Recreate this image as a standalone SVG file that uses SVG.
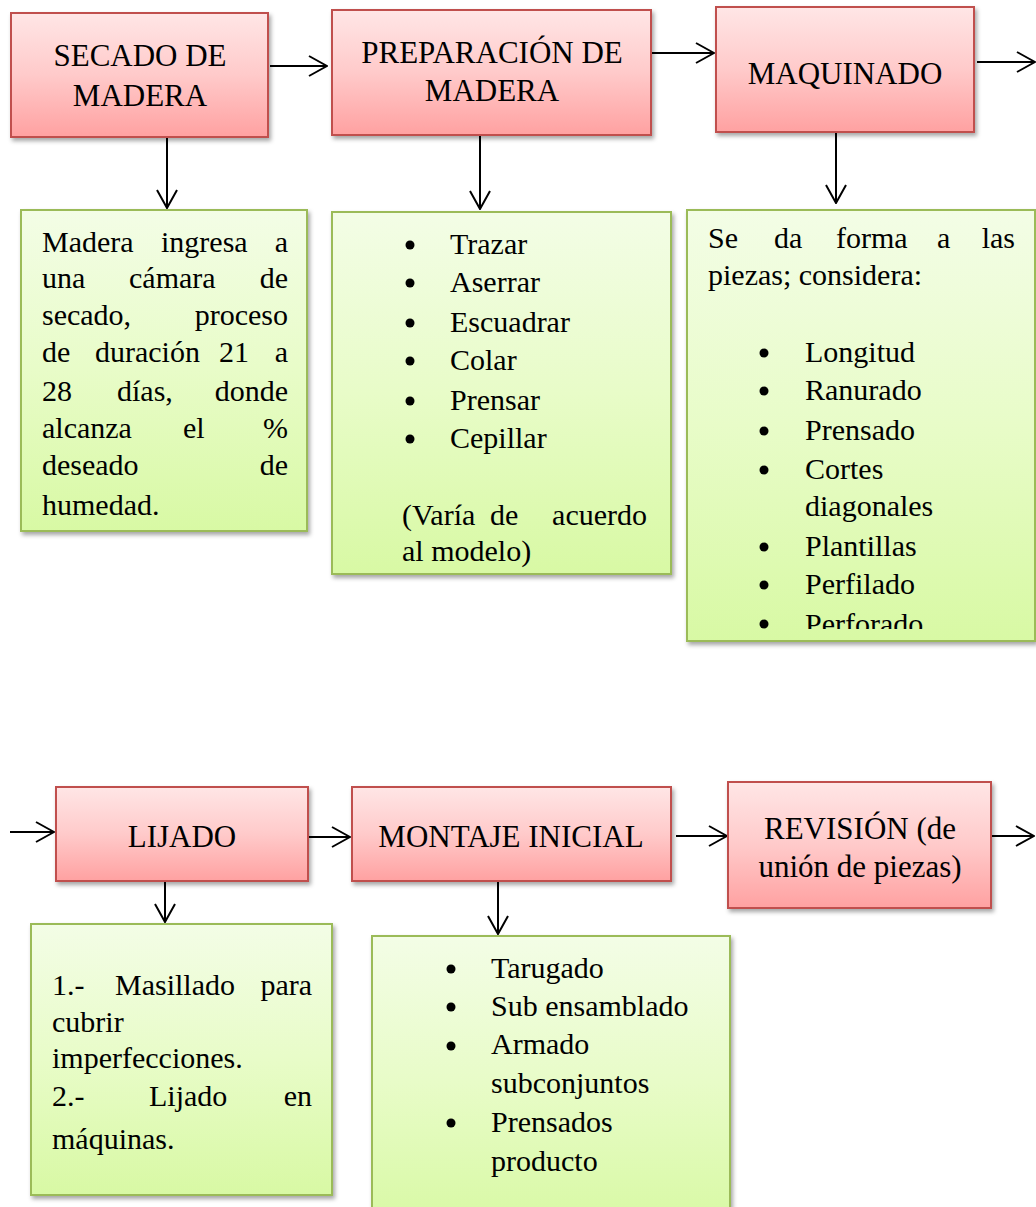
<svg xmlns="http://www.w3.org/2000/svg" width="1036" height="1207" viewBox="0 0 1036 1207">
<defs>
<linearGradient id="gr" x1="0" y1="0" x2="0" y2="1">
<stop offset="0" stop-color="#FFE6E6"/>
<stop offset="0.5" stop-color="#FFCACA"/>
<stop offset="1" stop-color="#FFA1A1"/>
</linearGradient>
<linearGradient id="gg" x1="0" y1="0" x2="0" y2="1">
<stop offset="0" stop-color="#F3FDE6"/>
<stop offset="0.5" stop-color="#E8FCC8"/>
<stop offset="1" stop-color="#D8F9A4"/>
</linearGradient>
<filter id="sh" x="-5%" y="-5%" width="112%" height="115%">
<feDropShadow dx="2" dy="3" stdDeviation="2" flood-color="#000" flood-opacity="0.35"/>
</filter>
<marker id="ah" viewBox="0 0 20 22" refX="19" refY="11" markerWidth="20" markerHeight="22" markerUnits="userSpaceOnUse" orient="auto">
<path d="M1,1 L19,11 L1,21" fill="none" stroke="#000" stroke-width="2"/>
</marker>
<clipPath id="clip3"><rect x="687" y="210" width="348" height="419"/></clipPath>
</defs>
<style>
.rb{fill:url(#gr);stroke:#C0504D;stroke-width:2;filter:url(#sh);}
.gb{fill:url(#gg);stroke:#9BBB59;stroke-width:2;filter:url(#sh);}
text{font-family:"Liberation Serif","Times New Roman",serif;font-size:30px;fill:#000;}
.h{font-size:31px;text-anchor:middle;}
.e{text-anchor:end;}
.c{stroke:#000;stroke-width:2;fill:none;marker-end:url(#ah);}
.b{fill:#000;}
</style>

<g id="connectors">
<line class="c" x1="270" y1="66" x2="327" y2="66"/>
<line class="c" x1="651" y1="53" x2="714" y2="53"/>
<line class="c" x1="977" y1="62" x2="1035" y2="62"/>
<line class="c" x1="167" y1="137" x2="167" y2="208"/>
<line class="c" x1="480" y1="135" x2="480" y2="209"/>
<line class="c" x1="836" y1="132" x2="836" y2="203"/>
<line class="c" x1="10" y1="832" x2="54" y2="832"/>
<line class="c" x1="308" y1="837" x2="350" y2="837"/>
<line class="c" x1="676" y1="836" x2="727" y2="836"/>
<line class="c" x1="991" y1="836" x2="1034" y2="836"/>
<line class="c" x1="165" y1="881" x2="165" y2="922"/>
<line class="c" x1="498" y1="881" x2="498" y2="934"/>
</g>

<g id="n-secado">
<rect class="rb" x="11" y="13" width="257" height="124"/>
<text class="h" x="140" y="66">SECADO DE</text>
<text class="h" x="140" y="106">MADERA</text>
</g>

<g id="n-preparacion">
<rect class="rb" x="332" y="10" width="319" height="125"/>
<text class="h" x="492" y="63">PREPARACIÓN DE</text>
<text class="h" x="492" y="101">MADERA</text>
</g>

<g id="n-maquinado">
<rect class="rb" x="716" y="7" width="258" height="125"/>
<text class="h" x="845" y="84">MAQUINADO</text>
</g>

<g id="d-secado">
<rect class="gb" x="21" y="210" width="286" height="321"/>
<text x="42" y="252">Madera</text><text x="161" y="252">ingresa</text><text class="e" x="288" y="252">a</text>
<text x="42" y="288">una</text><text x="129" y="288">cámara</text><text class="e" x="288" y="288">de</text>
<text x="42" y="325">secado,</text><text class="e" x="288" y="325">proceso</text>
<text x="42" y="362">de</text><text x="95" y="362">duración</text><text x="219" y="362">21</text><text class="e" x="288" y="362">a</text>
<text x="42" y="401">28</text><text x="117" y="401">días,</text><text class="e" x="288" y="401">donde</text>
<text x="42" y="438">alcanza</text><text x="183" y="438">el</text><text class="e" x="288" y="438">%</text>
<text x="42" y="475">deseado</text><text class="e" x="288" y="475">de</text>
<text x="42" y="515">humedad.</text>
</g>

<g id="d-preparacion">
<rect class="gb" x="332" y="212" width="339" height="362"/>
<circle class="b" cx="410" cy="245" r="4.5"/><text x="450" y="254">Trazar</text>
<circle class="b" cx="410" cy="283" r="4.5"/><text x="450" y="292">Aserrar</text>
<circle class="b" cx="410" cy="323" r="4.5"/><text x="450" y="332">Escuadrar</text>
<circle class="b" cx="410" cy="361" r="4.5"/><text x="450" y="370">Colar</text>
<circle class="b" cx="410" cy="401" r="4.5"/><text x="450" y="410">Prensar</text>
<circle class="b" cx="410" cy="439" r="4.5"/><text x="450" y="448">Cepillar</text>
<text x="402" y="525">(Varía</text><text x="490" y="525">de</text><text class="e" x="647" y="525">acuerdo</text>
<text x="402" y="561">al modelo)</text>
</g>

<g id="d-maquinado">
<rect class="gb" x="687" y="210" width="348" height="431"/>
<text x="708" y="248">Se</text><text x="774" y="248">da</text><text x="836" y="248">forma</text><text x="937" y="248">a</text><text class="e" x="1015" y="248">las</text>
<text x="708" y="285">piezas; considera:</text>
<circle class="b" cx="764" cy="353" r="4.5"/><text x="805" y="362">Longitud</text>
<circle class="b" cx="764" cy="391" r="4.5"/><text x="805" y="400">Ranurado</text>
<circle class="b" cx="764" cy="431" r="4.5"/><text x="805" y="440">Prensado</text>
<circle class="b" cx="764" cy="470" r="4.5"/><text x="805" y="479">Cortes</text>
<text x="805" y="516">diagonales</text>
<circle class="b" cx="764" cy="547" r="4.5"/><text x="805" y="556">Plantillas</text>
<circle class="b" cx="764" cy="585" r="4.5"/><text x="805" y="594">Perfilado</text>
<g clip-path="url(#clip3)">
<circle class="b" cx="764" cy="624" r="4.5"/><text x="805" y="634">Perforado</text>
</g>
</g>

<g id="n-lijado">
<rect class="rb" x="56" y="787" width="252" height="94"/>
<text class="h" x="182" y="847">LIJADO</text>
</g>

<g id="n-montaje">
<rect class="rb" x="352" y="787" width="319" height="94"/>
<text class="h" x="511" y="847">MONTAJE INICIAL</text>
</g>

<g id="n-revision">
<rect class="rb" x="728" y="782" width="263" height="126"/>
<text class="h" x="860" y="839">REVISIÓN (de</text>
<text class="h" x="860" y="877">unión de piezas)</text>
</g>

<g id="d-lijado">
<rect class="gb" x="31" y="924" width="301" height="271"/>
<text x="52" y="995">1.-</text><text x="115" y="995">Masillado</text><text class="e" x="312" y="995">para</text>
<text x="52" y="1032">cubrir</text>
<text x="52" y="1068">imperfecciones.</text>
<text x="52" y="1106">2.-</text><text x="149" y="1106">Lijado</text><text class="e" x="312" y="1106">en</text>
<text x="52" y="1149">máquinas.</text>
</g>

<g id="d-montaje">
<rect class="gb" x="372" y="936" width="358" height="290"/>
<circle class="b" cx="451" cy="969" r="4.5"/><text x="491" y="978">Tarugado</text>
<circle class="b" cx="451" cy="1007" r="4.5"/><text x="491" y="1016">Sub ensamblado</text>
<circle class="b" cx="451" cy="1046" r="4.5"/><text x="491" y="1054">Armado</text>
<text x="491" y="1093">subconjuntos</text>
<circle class="b" cx="451" cy="1123" r="4.5"/><text x="491" y="1132">Prensados</text>
<text x="491" y="1171">producto</text>
</g>
</svg>
